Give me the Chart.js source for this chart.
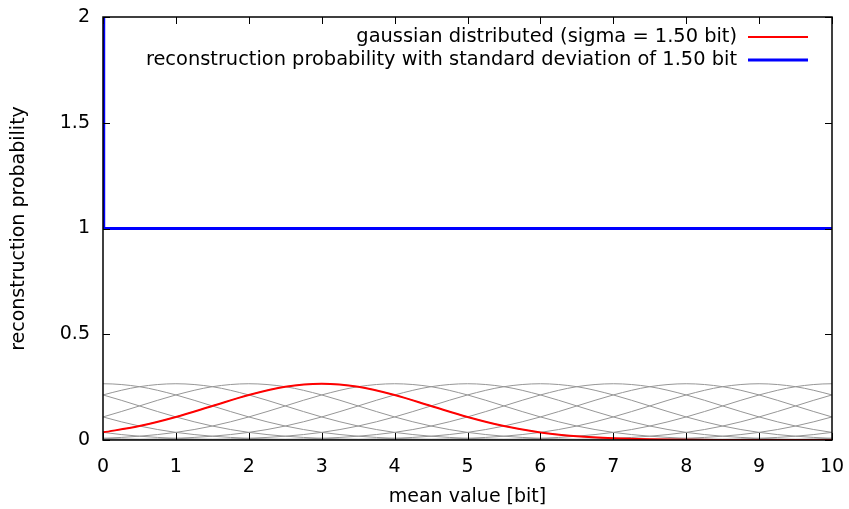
<!DOCTYPE html>
<html>
<head>
<meta charset="utf-8">
<script src="https://cdn.jsdelivr.net/npm/chart.js@4"></script>
<style>
  html, body { margin: 0; padding: 0; background: #fff; }
  #wrap { width: 849px; height: 509px; }
</style>
</head>
<body>
<div id="wrap"><canvas id="chart" width="849" height="509"></canvas></div>
<script>
// x positions sampled every 0.5 bit
const redX = [0, 0.5, 1, 1.5, 2, 2.5, 3, 3.5, 4, 4.5, 5, 5.5, 6, 6.5, 7, 7.5, 8, 8.5, 9, 9.5, 10];
const redY = [0.036, 0.066, 0.109, 0.161, 0.213, 0.252, 0.266, 0.252, 0.213, 0.161, 0.109, 0.066, 0.036, 0.018, 0.008, 0.003, 0.001, 0.0003, 0.0001, 0, 0];

// blue: spike at 0 then flat at 1
const blueX = [0, 0.01, 10];
const blueY = [2, 1, 1];

// grey curves: same bell shape around each integer mean
const greyCenters = [-4, -3, -2, -1, 0, 1, 2, 3, 4, 5, 6, 7, 8, 9, 10, 11, 12, 13, 14];
const bellOffsets = [-6, -5.5, -5, -4.5, -4, -3.5, -3, -2.5, -2, -1.5, -1, -0.5, 0, 0.5, 1, 1.5, 2, 2.5, 3, 3.5, 4, 4.5, 5, 5.5, 6];
const bellValues = [0.0001, 0.0003, 0.001, 0.003, 0.008, 0.018, 0.036, 0.066, 0.109, 0.161, 0.213, 0.252, 0.266, 0.252, 0.213, 0.161, 0.109, 0.066, 0.036, 0.018, 0.008, 0.003, 0.001, 0.0003, 0.0001];

const xTicks = [0, 1, 2, 3, 4, 5, 6, 7, 8, 9, 10];
const yTicks = [0, 0.5, 1, 1.5, 2];

const FONT = 'DejaVu Sans';
const FS = 19;

const toPts = (xs, ys) => xs.map((x, i) => ({ x: x, y: ys[i] }));

// chart.js paints index 0 last, so blue and red go first
const datasets = [];
datasets.push({
  label: 'reconstruction probability with standard deviation of 1.50 bit',
  data: toPts(blueX, blueY),
  borderColor: 'rgb(0,0,255)',
  borderWidth: 3,
  pointRadius: 0
});
datasets.push({
  label: 'gaussian distributed (sigma = 1.50 bit)',
  data: toPts(redX, redY),
  borderColor: 'rgb(255,0,0)',
  borderWidth: 2,
  pointRadius: 0,
  cubicInterpolationMode: 'monotone'
});
greyCenters.forEach(c => {
  datasets.push({
    label: '',
    data: bellOffsets.map((o, i) => ({ x: c + o, y: bellValues[i] })),
    borderColor: 'rgb(150,150,150)',
    borderWidth: 1,
    pointRadius: 0,
    cubicInterpolationMode: 'monotone',
    legendHide: true
  });
});

// border + inward ticks on all sides, gnuplot style
const frame = {
  id: 'frame',
  afterDatasetsDraw(chart) {
    const { ctx, chartArea: a, scales } = chart;
    ctx.save();
    ctx.strokeStyle = '#000';
    ctx.lineWidth = 1;
    ctx.beginPath();
    xTicks.forEach(v => {
      const px = Math.round(scales.x.getPixelForValue(v)) + 0.5;
      ctx.moveTo(px, a.bottom); ctx.lineTo(px, a.bottom - 7);
      ctx.moveTo(px, a.top); ctx.lineTo(px, a.top + 7);
    });
    yTicks.forEach(v => {
      const py = Math.round(scales.y.getPixelForValue(v)) + 0.5;
      ctx.moveTo(a.left, py); ctx.lineTo(a.left + 7, py);
      ctx.moveTo(a.right, py); ctx.lineTo(a.right - 7, py);
    });
    ctx.stroke();
    ctx.lineWidth = 1.5;
    ctx.strokeRect(a.left, a.top, a.right - a.left, a.bottom - a.top);
    ctx.restore();
  }
};

// key in top right, text right-aligned with sample line after it
const key = {
  id: 'key',
  afterDraw(chart) {
    const { ctx } = chart;
    const items = chart.data.datasets.filter(d => !d.legendHide).reverse();
    ctx.save();
    ctx.font = '19.4px "' + FONT + '"';
    ctx.fillStyle = '#000';
    ctx.textAlign = 'right';
    ctx.textBaseline = 'middle';
    items.forEach((d, i) => {
      const y = 37 + i * 23;
      ctx.fillText(d.label, 737, y);
      ctx.strokeStyle = d.borderColor;
      ctx.lineWidth = d.borderWidth;
      ctx.beginPath();
      ctx.moveTo(748, y); ctx.lineTo(808, y);
      ctx.stroke();
    });
    ctx.restore();
  }
};

new Chart(document.getElementById('chart'), {
  type: 'line',
  data: { datasets: datasets },
  options: {
    responsive: false,
    animation: false,
    layout: { padding: { top: 17, right: 17, left: 0, bottom: 0 } },
    plugins: { legend: { display: false }, tooltip: { enabled: false } },
    scales: {
      x: {
        type: 'linear', min: 0, max: 10,
        afterFit(s) { s.height = 69; s.paddingLeft = 0; s.paddingRight = 0; },
        afterBuildTicks(s) { s.ticks = xTicks.map(v => ({ value: v })); },
        grid: { display: false, drawTicks: false },
        border: { display: false },
        ticks: { color: '#000', padding: 16, font: { family: FONT, size: FS }, maxRotation: 0, callback: v => String(v) },
        title: { display: true, text: 'mean value [bit]', color: '#000', font: { family: FONT, size: FS }, padding: { top: 9, bottom: 1 } }
      },
      y: {
        min: 0, max: 2,
        afterFit(s) { s.width = 103; s.paddingTop = 0; s.paddingBottom = 0; },
        afterBuildTicks(s) { s.ticks = yTicks.map(v => ({ value: v })); },
        grid: { display: false, drawTicks: false },
        border: { display: false },
        ticks: { color: '#000', padding: 13, font: { family: FONT, size: FS }, callback: v => String(v) },
        title: { display: true, text: 'reconstruction probability', color: '#000', font: { family: FONT, size: FS }, padding: { top: 8, bottom: 20 } }
      }
    }
  },
  plugins: [frame, key]
});
</script>
</body>
</html>
